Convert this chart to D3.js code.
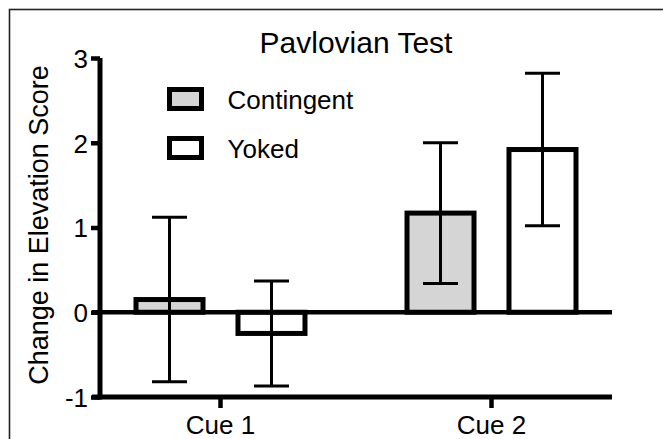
<!DOCTYPE html>
<html>
<head>
<meta charset="utf-8">
<script src="https://cdn.jsdelivr.net/npm/d3@7"></script>
<style>
  html, body { margin: 0; padding: 0; background: #fff; overflow: hidden; }
  svg { display: block; }
  svg text { font-family: "Liberation Sans", Arial, Helvetica, sans-serif; fill: #000; }
</style>
</head>
<body>
<div id="chart"></div>
<script>
// data
var cues = ["Cue 1", "Cue 2"];
var groups = ["Contingent", "Yoked"];
var contingentMean = [0.15, 1.17];
var contingentErr = [0.97, 0.83];
var yokedMean = [-0.25, 1.92];
var yokedErr = [0.62, 0.90];
var yTicks = [-1, 0, 1, 2, 3];
var fills = { Contingent: "#d5d5d5", Yoked: "#ffffff" };

var rows = [];
cues.forEach(function (c, i) {
    rows.push({ cue: c, group: "Contingent", v: contingentMean[i], e: contingentErr[i] });
    rows.push({ cue: c, group: "Yoked", v: yokedMean[i], e: yokedErr[i] });
});

var svgWidth = 663;
var svgHeight = 439;
var axisLeft = 100;
var axisRight = 612;

var svg = d3.select("#chart")
    .append("svg")
    .attr("width", svgWidth)
    .attr("height", svgHeight);

// outer frame (cut off at right and bottom)
svg.append("rect")
    .attr("x", 9.5).attr("y", 9.5)
    .attr("width", 720).attr("height", 520)
    .attr("fill", "none")
    .attr("stroke", "#222")
    .attr("stroke-width", 1.6);

// scales
var x0 = d3.scaleBand().domain(cues).range([85, 627]).padding(0);
var x1 = d3.scaleBand().domain(groups).range([51, 220]).paddingInner(0.343).paddingOuter(0);
var y = d3.scaleLinear().domain([-1, 3]).range([397, 58]);

// bars
svg.append("g")
    .selectAll("rect")
    .data(rows)
    .enter()
    .append("rect")
    .attr("x", function (d) { return x0(d.cue) + x1(d.group); })
    .attr("y", function (d) { return y(Math.max(0, d.v)); })
    .attr("width", x1.bandwidth())
    .attr("height", function (d) { return Math.abs(y(d.v) - y(0)); })
    .attr("fill", function (d) { return fills[d.group]; })
    .attr("stroke", "#000")
    .attr("stroke-width", 5);

// error bars
var capHalf = 17.5;
var eb = svg.append("g")
    .attr("stroke", "#000")
    .attr("stroke-width", 3)
    .selectAll("g")
    .data(rows)
    .enter()
    .append("g")
    .attr("transform", function (d) {
        return "translate(" + (x0(d.cue) + x1(d.group) + x1.bandwidth() / 2) + ",0)";
    });
eb.append("line")
    .attr("x1", 0).attr("x2", 0)
    .attr("y1", function (d) { return y(d.v + d.e); })
    .attr("y2", function (d) { return y(d.v - d.e); });
eb.append("line")
    .attr("x1", -capHalf).attr("x2", capHalf)
    .attr("y1", function (d) { return y(d.v + d.e); })
    .attr("y2", function (d) { return y(d.v + d.e); });
eb.append("line")
    .attr("x1", -capHalf).attr("x2", capHalf)
    .attr("y1", function (d) { return y(d.v - d.e); })
    .attr("y2", function (d) { return y(d.v - d.e); });

// zero line
svg.append("line")
    .attr("x1", axisLeft - 8).attr("x2", axisRight)
    .attr("y1", y(0)).attr("y2", y(0))
    .attr("stroke", "#000")
    .attr("stroke-width", 4.5);

// y axis
var yAxis = svg.append("g")
    .attr("transform", "translate(" + axisLeft + ",0)")
    .call(d3.axisLeft(y).tickValues(yTicks).tickSize(9).tickPadding(3).tickSizeOuter(0));
yAxis.select(".domain")
    .attr("stroke", "#000")
    .attr("stroke-width", 5)
    .attr("d", "M0," + y(3) + "V" + (y(-1) + 2.5));
yAxis.selectAll(".tick line").attr("stroke", "#000").attr("stroke-width", 4.5);
yAxis.selectAll(".tick text")
    .attr("font-size", 26)
    .attr("dy", "0.36em")
    .text(function (d) { return d; });

// x axis
var xAxis = svg.append("g")
    .attr("transform", "translate(0," + y(-1) + ")")
    .call(d3.axisBottom(x0).tickSize(11).tickPadding(8).tickSizeOuter(0));
xAxis.select(".domain")
    .attr("stroke", "#000")
    .attr("stroke-width", 5)
    .attr("d", "M" + (axisLeft - 8) + ",0H" + axisRight);
xAxis.selectAll(".tick line").attr("stroke", "#000").attr("stroke-width", 4.5);
xAxis.selectAll(".tick text").attr("font-size", 26);

// title
svg.append("text")
    .attr("x", (axisLeft + axisRight) / 2)
    .attr("y", 53)
    .attr("text-anchor", "middle")
    .attr("font-size", 30)
    .text("Pavlovian Test");

// y label
svg.append("text")
    .attr("transform", "translate(48," + 225 + ") rotate(-90)")
    .attr("text-anchor", "middle")
    .attr("font-size", 27)
    .text("Change in Elevation Score");

// legend
var legend = svg.append("g")
    .selectAll("g")
    .data(groups)
    .enter()
    .append("g")
    .attr("transform", function (d, i) { return "translate(169.5," + (99 + i * 49) + ")"; });
legend.append("rect")
    .attr("x", 0).attr("y", -9.5)
    .attr("width", 32).attr("height", 19)
    .attr("fill", function (d) { return fills[d]; })
    .attr("stroke", "#000")
    .attr("stroke-width", 5);
legend.append("text")
    .attr("x", 58)
    .attr("y", 9.5)
    .attr("font-size", 26)
    .text(function (d) { return d; });
</script>
</body>
</html>
